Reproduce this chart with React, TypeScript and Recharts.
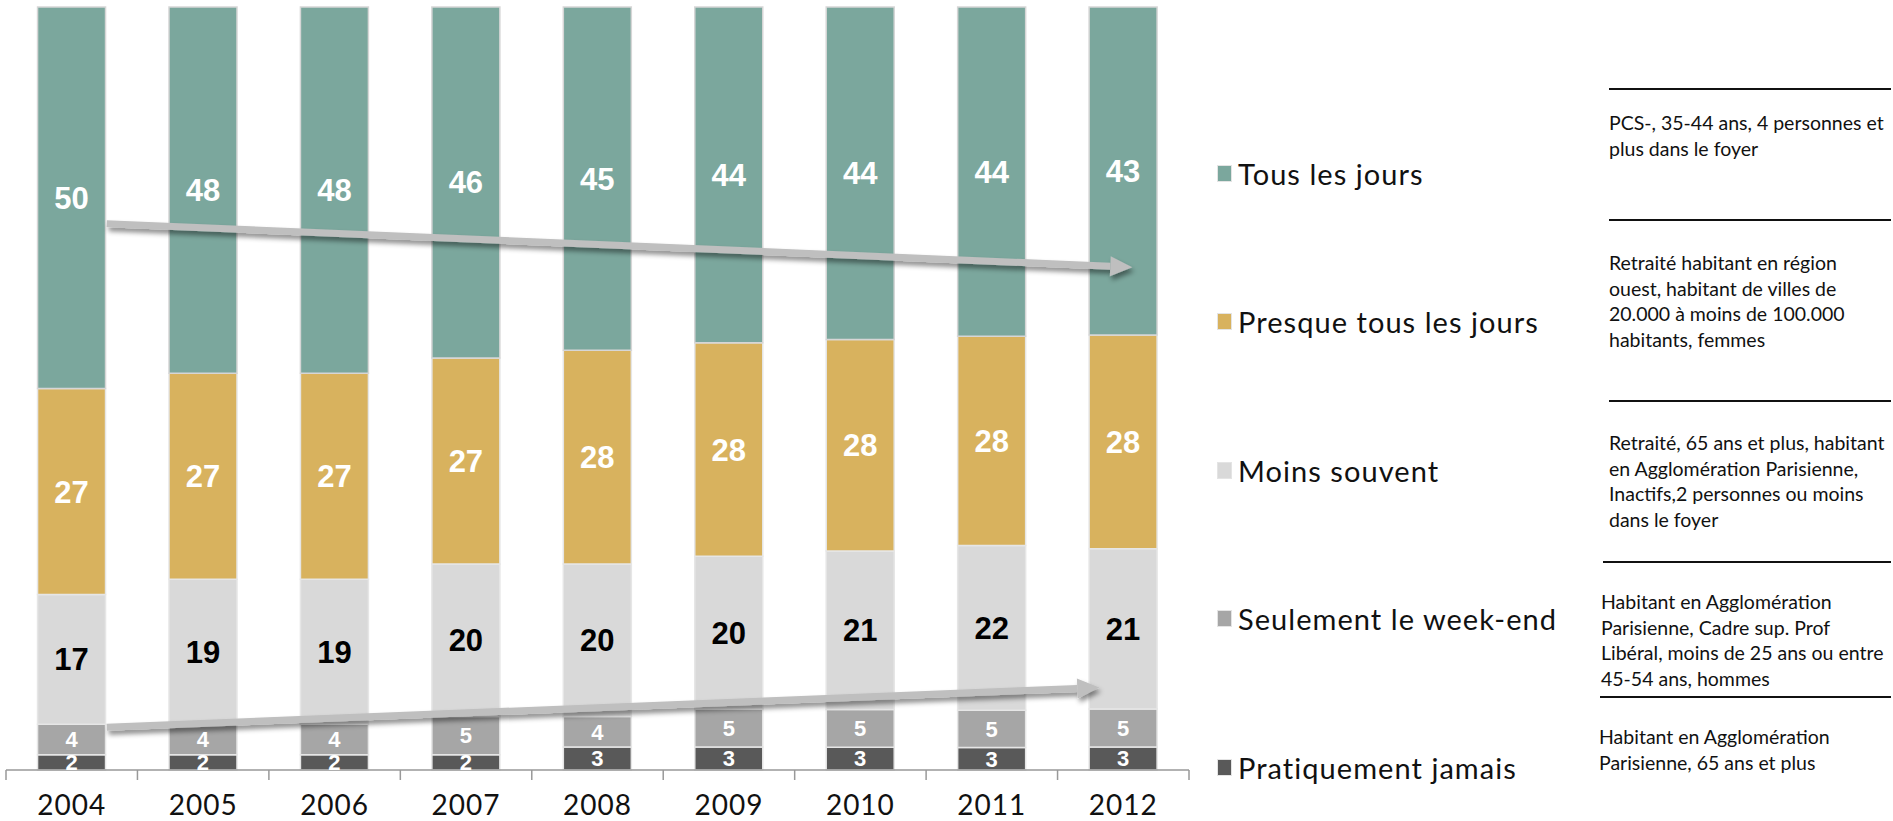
import React from "react";
import { BarChart, Bar, XAxis, YAxis, LabelList, Legend, ReferenceLine } from "recharts";

// fréquence d'usage, en %
const years = ["2004", "2005", "2006", "2007", "2008", "2009", "2010", "2011", "2012"];
const tousLesJours = [50, 48, 48, 46, 45, 44, 44, 44, 43];
const presqueTous = [27, 27, 27, 27, 28, 28, 28, 28, 28];
const moinsSouvent = [17, 19, 19, 20, 20, 20, 21, 22, 21];
const weekEnd = [4, 4, 4, 5, 4, 5, 5, 5, 5];
const jamais = [2, 2, 2, 2, 3, 3, 3, 3, 3];

// légende, du haut vers le bas
const legendNames = ["Tous les jours", "Presque tous les jours", "Moins souvent", "Seulement le week-end", "Pratiquement jamais"];
const legendColors = ["#7ba79d", "#d8b25e", "#d9d9d9", "#a6a6a6", "#595959"];

// profils sur-représentés, du haut vers le bas
const profils = [
  ["PCS-, 35-44 ans, 4 personnes et", "plus dans le foyer"],
  ["Retraité habitant en région", "ouest, habitant de villes de", "20.000 à moins de 100.000", "habitants, femmes"],
  ["Retraité, 65 ans et plus, habitant", "en Agglomération Parisienne,", "Inactifs,2 personnes ou moins", "dans le foyer"],
  ["Habitant en Agglomération", "Parisienne, Cadre sup. Prof", "Libéral, moins de 25 ans ou entre", "45-54 ans, hommes"],
  ["Habitant en Agglomération", "Parisienne, 65 ans et plus"],
];

const data = years.map((year, i) => ({
  year,
  jamais: jamais[i],
  weekEnd: weekEnd[i],
  moins: moinsSouvent[i],
  presque: presqueTous[i],
  tous: tousLesJours[i],
}));

const valueFont = "'Liberation Sans', Arial, sans-serif";
const gothic = "Lato, 'Open Sans', sans-serif";

const YearTick = (props: any) => {
  const { x, y, payload, index, visibleTicksCount } = props;
  const half = payload && payload.offset ? payload.offset : 65.7;
  const axisY = y - 10;
  return (
    <g>
      <line x1={x - half} x2={x - half} y1={axisY} y2={axisY + 10} stroke="#999" strokeWidth={1.5} />
      {index === visibleTicksCount - 1 && (
        <line x1={x + half} x2={x + half} y1={axisY} y2={axisY + 10} stroke="#999" strokeWidth={1.5} />
      )}
      <text x={x} y={y + 35} textAnchor="middle" fontFamily={gothic} fontSize={28} letterSpacing={1} fill="#111">
        {payload.value}
      </text>
    </g>
  );
};

const makeArrow = (id: string, startShift: number, endShift: number) => (props: any) => {
  const { x1, y1, x2, y2 } = props;
  const sx = x1 + startShift;
  const ex = x2 + endShift;
  const ang = Math.atan2(y2 - y1, ex - sx);
  const head = 22;
  const hw = 10;
  const bx = ex - head * Math.cos(ang);
  const by = y2 - head * Math.sin(ang);
  const nx = -Math.sin(ang);
  const ny = Math.cos(ang);
  return (
    <g filter={`url(#${id})`}>
      <defs>
        <filter id={id} x="-10%" y="-200%" width="120%" height="500%">
          <feDropShadow dx={2} dy={4} stdDeviation={2.5} floodColor="#000" floodOpacity={0.45} />
        </filter>
      </defs>
      <line x1={sx} y1={y1} x2={bx} y2={by} stroke="#bfbfbf" strokeWidth={7} />
      <polygon
        points={`${ex},${y2} ${bx + nx * hw},${by + ny * hw} ${bx - nx * hw},${by - ny * hw}`}
        fill="#bfbfbf"
      />
    </g>
  );
};

const LegendBlock = () => (
  <div style={{ position: "relative", width: 380, height: 821 }}>
    {legendNames.map((name, i) => (
      <div
        key={name}
        style={{
          position: "absolute",
          left: 7,
          top: 173 + i * 148.5 - 18,
          height: 36,
          display: "flex",
          alignItems: "center",
          whiteSpace: "nowrap",
        }}
      >
        <span
          style={{
            display: "inline-block",
            width: 13,
            height: 15,
            background: legendColors[i],
            border: "1.5px solid #e4e4e4",
            marginRight: 6,
          }}
        />
        <span style={{ fontFamily: gothic, fontSize: 29, letterSpacing: 1.05, color: "#111" }}>{name}</span>
      </div>
    ))}
  </div>
);

const ruleTops = [89, 220, 401, 562, 697];
const ruleLefts = [1609, 1609, 1609, 1603, 1600];
const noteTops = [123, 263, 443, 602, 737];
const noteLefts = [1609, 1609, 1609, 1601, 1599];

export default function App() {
  return (
    <div style={{ position: "absolute", left: 0, top: 0, width: 1893, height: 821, background: "#fff", overflow: "hidden" }}>
      <BarChart
        width={1893}
        height={821}
        data={data}
        stackOffset="expand"
        barCategoryGap="24%"
        margin={{ top: 7, right: 704, bottom: 0, left: 6 }}
      >
        <XAxis
          dataKey="year"
          height={51}
          tick={<YearTick />}
          tickLine={false}
          tickSize={10}
          tickMargin={0}
          axisLine={{ stroke: "#999", strokeWidth: 1.5 }}
          interval={0}
        />
        <YAxis hide domain={[0, 1]} />
        <Legend
          layout="vertical"
          align="center"
          verticalAlign="middle"
          wrapperStyle={{ left: 1210, top: 0, width: 380, height: 821 }}
          content={<LegendBlock />}
        />
        <Bar dataKey="jamais" name="Pratiquement jamais" stackId="a" fill="#595959" stroke="#e6e6e6" strokeWidth={1.5} isAnimationActive={false}>
          <LabelList dataKey="jamais" position="center" fill="#fff" fontFamily={valueFont} fontWeight="bold" fontSize={22} />
        </Bar>
        <Bar dataKey="weekEnd" name="Seulement le week-end" stackId="a" fill="#a6a6a6" stroke="#e6e6e6" strokeWidth={1.5} isAnimationActive={false}>
          <LabelList dataKey="weekEnd" position="center" fill="#fff" fontFamily={valueFont} fontWeight="bold" fontSize={22} />
        </Bar>
        <Bar dataKey="moins" name="Moins souvent" stackId="a" fill="#d9d9d9" stroke="#e6e6e6" strokeWidth={1.5} isAnimationActive={false}>
          <LabelList dataKey="moins" position="center" fill="#000" fontFamily={valueFont} fontWeight="bold" fontSize={31} />
        </Bar>
        <Bar dataKey="presque" name="Presque tous les jours" stackId="a" fill="#d8b25e" stroke="#e6e6e6" strokeWidth={1.5} isAnimationActive={false}>
          <LabelList dataKey="presque" position="center" fill="#fff" fontFamily={valueFont} fontWeight="bold" fontSize={31} />
        </Bar>
        <Bar dataKey="tous" name="Tous les jours" stackId="a" fill="#7ba79d" stroke="#d6d6d6" strokeWidth={1.5} isAnimationActive={false}>
          <LabelList dataKey="tous" position="center" fill="#fff" fontFamily={valueFont} fontWeight="bold" fontSize={31} />
        </Bar>
        <ReferenceLine
          segment={[{ x: "2004", y: 0.716 }, { x: "2012", y: 0.659 }]}
          shape={makeArrow("shadowTop", 35, 9)}
        />
        <ReferenceLine
          segment={[{ x: "2004", y: 0.056 }, { x: "2012", y: 0.108 }]}
          shape={makeArrow("shadowBottom", 35, -24)}
        />
      </BarChart>

      {ruleTops.map((top, i) => (
        <div
          key={"rule" + i}
          style={{ position: "absolute", left: ruleLefts[i], top: top - 1, width: 1891 - ruleLefts[i], height: 0, borderTop: "2px solid #111" }}
        />
      ))}
      {profils.map((lines, i) => (
        <div
          key={"note" + i}
          style={{
            position: "absolute",
            left: noteLefts[i],
            top: noteTops[i] - 13,
            fontFamily: "Lato, 'Open Sans', sans-serif",
            fontSize: 19.5,
            lineHeight: "25.5px",
            color: "#111",
            whiteSpace: "nowrap",
          }}
        >
          {lines.map((l) => (
            <div key={l}>{l}</div>
          ))}
        </div>
      ))}
    </div>
  );
}
